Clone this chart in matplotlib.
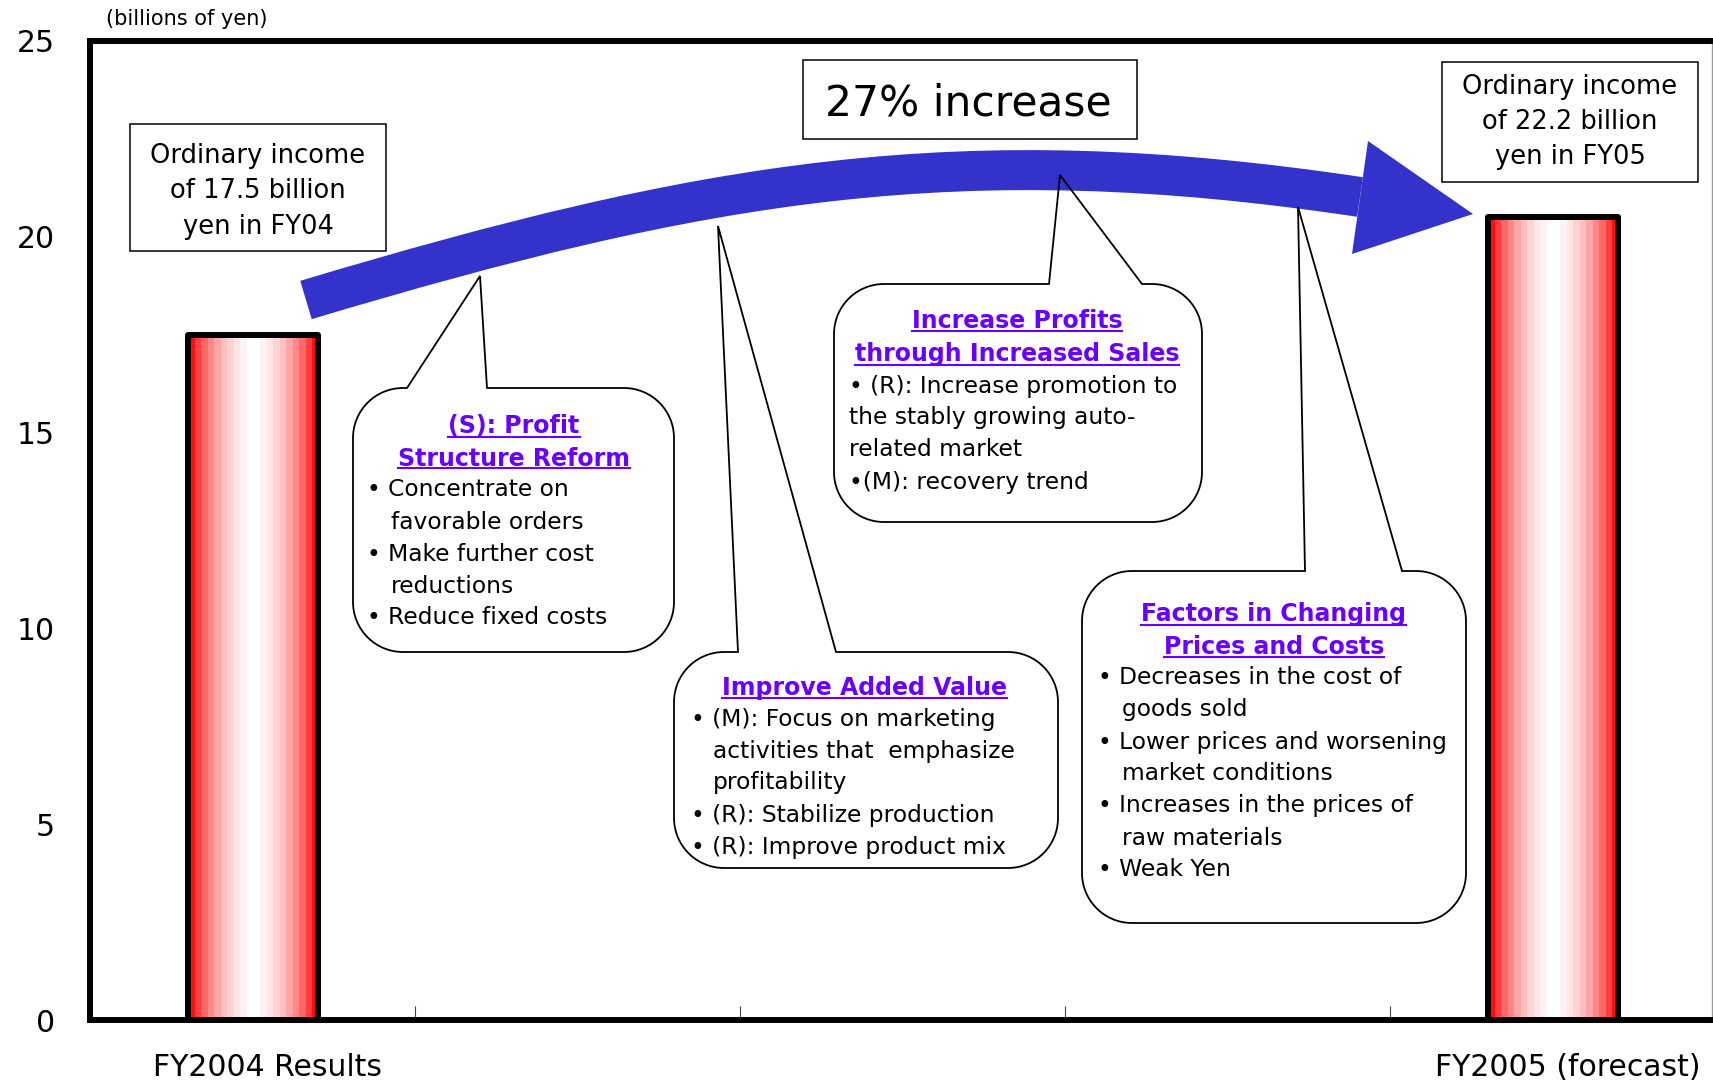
import matplotlib
matplotlib.use('Agg')
import matplotlib.pyplot as plt
import numpy as np
from matplotlib.path import Path
from matplotlib.patches import PathPatch, Polygon
from matplotlib.lines import Line2D
from matplotlib.transforms import ScaledTranslation

# ---- data ----
categories = ['FY2004 Results', '', '', '', 'FY2005 (forecast)']
bar_pos = [0, 4]
bar_values = [17.5, 20.5]
yticks = [0, 5, 10, 15, 20, 25]

left_note = ['Ordinary income', 'of 17.5 billion', 'yen in FY04']
right_note = ['Ordinary income', 'of 22.2 billion', 'yen in FY05']
increase_note = '27% increase'
unit_label = '(billions of yen)'

head_s = ['(S): Profit', 'Structure Reform']
body_s = ['• Concentrate on', 'favorable orders', '• Make further cost',
          'reductions', '• Reduce fixed costs']
head_v = ['Improve Added Value']
body_v = ['• (M): Focus on marketing', 'activities that  emphasize', 'profitability',
          '• (R): Stabilize production', '• (R): Improve product mix']
head_p = ['Increase Profits', 'through Increased Sales']
body_p = ['• (R): Increase promotion to', 'the stably growing auto-',
          'related market', '•(M): recovery trend']
head_f = ['Factors in Changing', 'Prices and Costs']
body_f = ['• Decreases in the cost of', 'goods sold', '• Lower prices and worsening',
          'market conditions', '• Increases in the prices of', 'raw materials', '• Weak Yen']

# ---- style ----
W, H = 1713, 1088
arrow_color = '#3333CC'
head_color = '#6A00FF'
stripe_levels = [0.95, 0.75, 0.6, 0.47, 0.35, 0.25, 0.17, 0.1, 0.05, 0.0]

fig = plt.figure(figsize=(W / 100, H / 100), dpi=100)
ax = fig.add_axes([90 / W, 68 / H, 1622 / W, 979 / H])

# bars: striped fill + thick black outline
bar_w = 0.40
s = np.array(stripe_levels + stripe_levels[::-1])
stripes = np.stack([np.ones_like(s), 1 - s, 1 - s], axis=-1)[None, :, :]
for x, v in zip(bar_pos, bar_values):
    ax.imshow(stripes, extent=(x - bar_w / 2, x + bar_w / 2, 0, v),
              aspect='auto', interpolation='nearest', zorder=2)
ax.bar(bar_pos, bar_values, width=bar_w, fill=False, edgecolor='black',
       linewidth=4.3, joinstyle='round', zorder=3)

ax.set_xlim(-0.5, 4.49)
ax.set_ylim(0, 25)
ax.set_yticks(yticks)
ax.set_xticks(range(len(categories)), categories)
ax.set_xticks([0.5, 1.5, 2.5, 3.5], minor=True)
ax.tick_params(axis='y', length=0, labelsize=21.5, pad=25)
ax.tick_params(axis='x', which='major', length=0, labelsize=21.5, pad=24)
ax.tick_params(axis='x', which='minor', direction='in', length=10, width=0.8,
               color='#444444')
for lab in ax.get_xticklabels():
    lab.set_transform(lab.get_transform() + ScaledTranslation(0.15, 0, fig.dpi_scale_trans))

for side in ['left', 'top', 'bottom']:
    ax.spines[side].set_linewidth(4.3)
    ax.spines[side].set_capstyle('projecting')
ax.spines['right'].set_linewidth(1)
ax.spines['right'].set_color('#999999')

fig.text(106 / W, 1 - 19 / H, unit_label, fontsize=15, va='center', ha='left')


def P(X, Y):
    """reference pixel (y down) -> data coords"""
    return ax.transData.inverted().transform((X, H - Y))


def base(Y, size):
    return Y + 0.36 * size * 100 / 72


# curved arrow
body = Path([P(306, 300), P(706, 180), P(960, 137), P(1360, 197)],
            [Path.MOVETO, Path.CURVE4, Path.CURVE4, Path.CURVE4])
ax.add_patch(PathPatch(body, fill=False, edgecolor=arrow_color, lw=28.8,
                       capstyle='butt', zorder=4))
ax.add_patch(Polygon([P(1368, 141), P(1473, 214), P(1352, 254)], closed=True,
                     facecolor=arrow_color, edgecolor='none', zorder=4))


def rect_box(x0, y0, x1, y1):
    ax.add_patch(Polygon([P(x0, y0), P(x1, y0), P(x1, y1), P(x0, y1)], closed=True,
                         facecolor='white', edgecolor='black', lw=1.1, zorder=5))


rect_box(130, 124, 386, 251)
for line, y in zip(left_note, [154, 189, 225]):
    ax.text(*P(258, base(y, 18.5)), line, fontsize=18.5, ha='center', va='baseline', zorder=6)
rect_box(1442, 62, 1698, 182)
for line, y in zip(right_note, [85, 120, 155]):
    ax.text(*P(1570, base(y, 18.5)), line, fontsize=18.5, ha='center', va='baseline', zorder=6)
rect_box(803, 60, 1137, 139)
ax.text(*P(968, base(100, 30.5)), increase_note, fontsize=30.5, ha='center',
        va='baseline', zorder=6)


def callout(x0, y0, x1, y1, bx1, bx2, tx, ty, r=50):
    k = 0.5523 * r
    pts = [(bx1, y0), (tx, ty), (bx2, y0),
           (x1 - r, y0), (x1 - r + k, y0), (x1, y0 + r - k), (x1, y0 + r),
           (x1, y1 - r), (x1, y1 - r + k), (x1 - r + k, y1), (x1 - r, y1),
           (x0 + r, y1), (x0 + r - k, y1), (x0, y1 - r + k), (x0, y1 - r),
           (x0, y0 + r), (x0, y0 + r - k), (x0 + r - k, y0), (x0 + r, y0),
           (bx1, y0), (bx1, y0)]
    C, L = Path.CURVE4, Path.LINETO
    codes = [Path.MOVETO, L, L, L, C, C, C, L, C, C, C, L, C, C, C, L, C, C, C, L,
             Path.CLOSEPOLY]
    path = Path([P(*p) for p in pts], codes)
    ax.add_patch(PathPatch(path, facecolor='white', edgecolor='none', zorder=2))
    ax.add_patch(PathPatch(path, facecolor='none', edgecolor='black', lw=1.3, zorder=5))


headers = []


def callout_text(heads, head_x, head_ys, lines, xs, ys):
    for h, y in zip(heads, head_ys):
        t = ax.text(*P(head_x, base(y, 17)), h, fontsize=17, fontweight='bold',
                    color=head_color, ha='center', va='baseline', zorder=6)
        headers.append((t, base(y, 17)))
    for line, x, y in zip(lines, xs, ys):
        ax.text(*P(x, base(y, 16.8)), line, fontsize=16.8, ha='left',
                va='baseline', zorder=6)


def xs_for(lines, bx, ix):
    return [bx if l.startswith('•') else ix for l in lines]


callout(353, 388, 674, 652, 407, 487, 480, 276)
callout_text(head_s, 514, [425, 457], body_s, xs_for(body_s, 367, 391),
             [488, 521, 553, 585, 616])
callout(674, 652, 1058, 868, 738, 836, 718, 226)
callout_text(head_v, 865, [686], body_v, xs_for(body_v, 691, 713),
             [718, 750, 781, 814, 846])
callout(834, 284, 1202, 522, 1049, 1142, 1060, 175)
callout_text(head_p, 1017, [320, 353], body_p, [849] * 4, [385, 416, 448, 481])
callout(1082, 571, 1466, 923, 1305, 1402, 1298, 207)
callout_text(head_f, 1274, [613, 645], body_f, xs_for(body_f, 1098, 1122),
             [676, 708, 741, 772, 804, 837, 868])

# underline the purple headings
fig.canvas.draw()
renderer = fig.canvas.get_renderer()
for t, yb in headers:
    bb = t.get_window_extent(renderer)
    ya = H - yb - 3
    (xa, ya_d), (xb, _) = ax.transData.inverted().transform([(bb.x0, ya), (bb.x1, ya)])
    ax.add_line(Line2D([xa, xb], [ya_d, ya_d], color=head_color, lw=1.5, zorder=6))

fig.savefig('out.png', dpi=100)
